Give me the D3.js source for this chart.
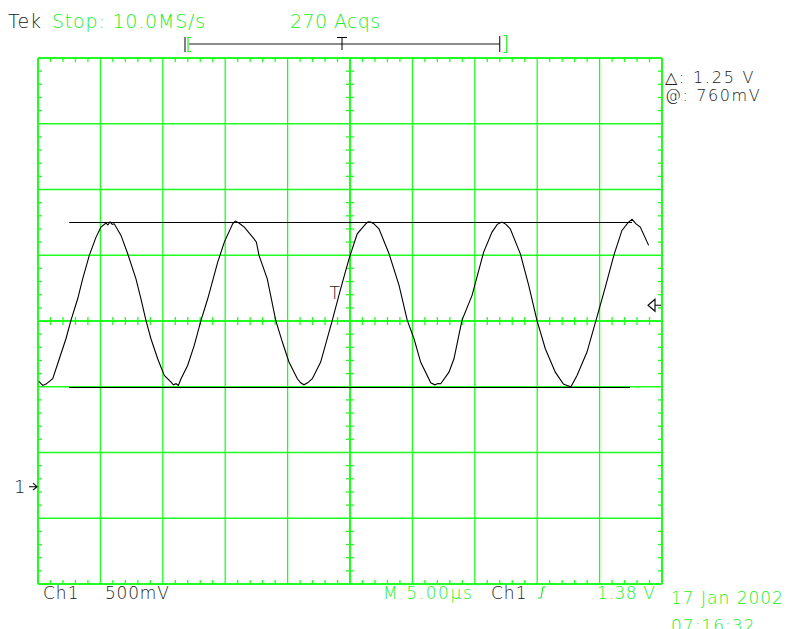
<!DOCTYPE html>
<html><head><meta charset="utf-8">
<script src="https://cdn.jsdelivr.net/npm/d3@7"></script>
<style>body{margin:0;background:#fff}svg{display:block}text{font-family:"DejaVu Sans Light","DejaVu Sans",sans-serif;font-weight:200}</style>
</head><body>
<script>
// Time (µs from left edge of screen) and Ch1 voltage (V, relative to ground marker)
const timeUs = [0.06,0.38,0.64,1.18,1.71,2.24,2.64,3.18,3.58,4.11,4.65,5.05,5.45,5.6,5.77,5.95,6.11,6.65,7.19,7.85,8.25,8.65,9.05,9.59,10.12,10.66,10.85,11.06,11.25,11.46,11.99,12.52,13.06,13.60,14.40,14.93,15.60,15.8,16.00,16.2,16.53,17.31,17.5,17.71,18.37,19.05,19.58,20.11,20.78,21.05,21.31,21.6,21.98,22.65,23.58,24.25,24.92,25.58,26.26,26.45,26.66,26.9,27.32,28.13,28.93,29.59,30.13,30.66,31.47,31.8,32.05,32.27,32.93,33.33,33.97,34.78,35.71,36.38,36.8,37.18,37.5,37.84,38.65,39.32,39.98,40.65,41.45,42.1,42.39,42.7,43.19,43.99,44.71,45.46,46.14,46.79,47.3,47.60,47.9,48.26,48.93];
const voltsCh1 = [0.801,0.770,0.780,0.821,0.973,1.125,1.265,1.429,1.581,1.759,1.898,1.974,2.005,1.990,2.013,1.995,1.999,1.911,1.771,1.581,1.429,1.265,1.125,0.973,0.846,0.795,0.775,0.783,0.770,0.821,0.922,1.075,1.265,1.429,1.708,1.860,1.999,2.020,2.012,1.998,1.974,1.885,1.860,1.759,1.581,1.265,1.100,0.948,0.821,0.790,0.775,0.790,0.821,0.948,1.265,1.505,1.733,1.923,1.999,2.015,2.012,2.000,1.961,1.771,1.531,1.265,1.125,0.948,0.790,0.775,0.785,0.783,0.871,0.973,1.265,1.455,1.784,1.936,1.995,2.012,1.995,1.961,1.771,1.531,1.265,1.049,0.871,0.780,0.770,0.760,0.846,1.024,1.265,1.518,1.759,1.949,2.010,2.033,2.000,1.974,1.835];
const cursorVolts = [2.01, 0.76];
const cursorSpanUs = [2.5, 47.6];
const triggerVolts = 1.38;
const groundVolts = 0;
const triggerTimeUs = 24.4;
const recordSpanUs = [12.1, 37.0];
const xMajor = [0,5,10,15,20,25,30,35,40,45,50];
const yMajor = [-0.74,-0.24,0.26,0.76,1.26,1.76,2.26,2.76,3.26];
const headerTexts = ["Tek","Stop: 10.0MS/s","270 Acqs"];
const readoutTexts = ["\u25B3: 1.25 V","@: 760mV"];
const footerTexts = ["Ch1","500mV","M 5.00\u00B5s","Ch1","1.38 V","17 Jan 2002","07:16:32"];

const W=790,H=629;
const GREEN="#1fff1f", TXTGREEN="#22ee22", INK="#222";
const svg=d3.select("body").append("svg").attr("width",W).attr("height",H);
const x=d3.scaleLinear().domain([0,50]).range([38,662]);
const y=d3.scaleLinear().domain([-0.74,3.26]).range([584,58]);
const xC=25, yC=1.26;

// grid lines
const g=svg.append("g");
xMajor.forEach(v=>{
  const edge=(v===0||v===50), c=(v===xC);
  g.append("line").attr("x1",x(v)).attr("x2",x(v)).attr("y1",y(3.26)).attr("y2",y(-0.74))
   .attr("stroke",GREEN).attr("stroke-width",edge||c?2:1.3);
});
yMajor.forEach(v=>{
  const edge=(v===-0.74||v===3.26), c=(Math.abs(v-yC)<1e-6);
  g.append("line").attr("x1",x(0)).attr("x2",x(50)).attr("y1",y(v)).attr("y2",y(v))
   .attr("stroke",GREEN).attr("stroke-width",edge||c?2:1.3);
});
// minor ticks
const tl=4;
d3.range(0,51,1).filter(v=>v%5!==0).forEach(v=>{
  const px=x(v);
  g.append("line").attr("x1",px).attr("x2",px).attr("y1",y(3.26)).attr("y2",y(3.26)+tl).attr("stroke",GREEN).attr("stroke-width",1.3);
  g.append("line").attr("x1",px).attr("x2",px).attr("y1",y(-0.74)).attr("y2",y(-0.74)-tl).attr("stroke",GREEN).attr("stroke-width",1.3);
  g.append("line").attr("x1",px).attr("x2",px).attr("y1",y(yC)-tl).attr("y2",y(yC)+tl).attr("stroke",GREEN).attr("stroke-width",1.3);
});
d3.range(0,41,1).filter(k=>k%5!==0).forEach(k=>{
  const py=y(-0.74+k*0.1);
  g.append("line").attr("x1",x(0)).attr("x2",x(0)+tl).attr("y1",py).attr("y2",py).attr("stroke",GREEN).attr("stroke-width",1.3);
  g.append("line").attr("x1",x(50)).attr("x2",x(50)-tl).attr("y1",py).attr("y2",py).attr("stroke",GREEN).attr("stroke-width",1.3);
  g.append("line").attr("x1",x(xC)-tl).attr("x2",x(xC)+tl).attr("y1",py).attr("y2",py).attr("stroke",GREEN).attr("stroke-width",1.3);
});

// cursors
cursorVolts.forEach((v,i)=>{
  svg.append("line").attr("x1",x(cursorSpanUs[0])).attr("x2",x(cursorSpanUs[1])-(i?2:0))
    .attr("y1",Math.round(y(v))+0.5).attr("y2",Math.round(y(v))+0.5).attr("stroke","#000").attr("stroke-width",1);
});

// waveform
const pts=timeUs.map((t,i)=>[x(t),y(voltsCh1[i])]);
svg.append("path").attr("d",d3.line()(pts)).attr("fill","none").attr("stroke","#000").attr("stroke-width",1.1);

// trigger 'T' on waveform
svg.append("text").attr("x",x(triggerTimeUs)-13).attr("y",y(triggerVolts)-6).attr("font-size",17).attr("fill",INK).text("T");

// header
svg.append("text").attr("x",8).attr("y",28).attr("font-size",19).attr("letter-spacing",1).attr("fill",INK).text(headerTexts[0]);
svg.append("text").attr("x",52).attr("y",28).attr("font-size",19).attr("letter-spacing",0.8).attr("fill",TXTGREEN).text(headerTexts[1]);
svg.append("text").attr("x",290).attr("y",28).attr("font-size",19).attr("letter-spacing",0.4).attr("fill",TXTGREEN).text(headerTexts[2]);

// record bar
const rb=svg.append("g");
rb.append("line").attr("x1",x(recordSpanUs[0])).attr("x2",x(recordSpanUs[1])).attr("y1",44).attr("y2",44).attr("stroke","#666").attr("stroke-width",1.6);
rb.append("line").attr("x1",x(recordSpanUs[0])-4).attr("x2",x(recordSpanUs[0])-4).attr("y1",37).attr("y2",52).attr("stroke","#000").attr("stroke-width",1);
rb.append("path").attr("d",`M${x(recordSpanUs[0])+2},37.5 H${x(recordSpanUs[0])-1} V51.5 H${x(recordSpanUs[0])+2}`).attr("fill","none").attr("stroke",TXTGREEN).attr("stroke-width",1.2);
rb.append("line").attr("x1",x(recordSpanUs[1])).attr("x2",x(recordSpanUs[1])).attr("y1",36).attr("y2",52).attr("stroke","#000").attr("stroke-width",1);
rb.append("path").attr("d",`M${x(recordSpanUs[1])+4},35.5 H${x(recordSpanUs[1])+7} V52.5 H${x(recordSpanUs[1])+4}`).attr("fill","none").attr("stroke",TXTGREEN).attr("stroke-width",1.2);
const tx=x(triggerTimeUs)-0.5;
rb.append("path").attr("d",`M${tx-5},37.5 H${tx+5} M${tx},37.5 V50`).attr("fill","none").attr("stroke","#000").attr("stroke-width",1);

// readouts
svg.append("text").attr("x",665).attr("y",83).attr("font-size",16).attr("letter-spacing",1.8).attr("fill",INK).text(readoutTexts[0]);
svg.append("text").attr("x",665).attr("y",101).attr("font-size",16).attr("letter-spacing",1.6).attr("fill",INK).text(readoutTexts[1]);

// ground marker
const gy=y(groundVolts);
svg.append("text").attr("x",14).attr("y",gy+6.5).attr("font-size",18).attr("fill",INK).text("1");
svg.append("path").attr("d",`M29,${gy} H37 M33,${gy-3.5} L37,${gy} L33,${gy+3.5}`).attr("fill","none").attr("stroke","#000").attr("stroke-width",1.1);

// trigger level marker
const ty=y(triggerVolts);
svg.append("path").attr("d",`M655,${ty-6} L648,${ty} L655,${ty+6} Z M655,${ty} H661`).attr("fill","none").attr("stroke","#000").attr("stroke-width",1.1);

// footer
svg.append("text").attr("x",43).attr("y",599).attr("font-size",17).attr("letter-spacing",1).attr("fill",INK).text(footerTexts[0]);
svg.append("text").attr("x",105).attr("y",599).attr("font-size",17).attr("letter-spacing",0.8).attr("fill",INK).text(footerTexts[1]);
svg.append("text").attr("x",383).attr("y",599).attr("font-size",17).attr("letter-spacing",1.6).attr("fill",TXTGREEN).text(footerTexts[2]);
svg.append("text").attr("x",491).attr("y",599).attr("font-size",17).attr("letter-spacing",1).attr("fill",INK).text(footerTexts[3]);
svg.append("path").attr("d","M538,598 H541 L543,587 H546").attr("fill","none").attr("stroke",TXTGREEN).attr("stroke-width",1.2);
svg.append("text").attr("x",597).attr("y",599).attr("font-size",17).attr("letter-spacing",0.6).attr("fill",TXTGREEN).text(footerTexts[4]);
svg.append("text").attr("x",671).attr("y",604).attr("font-size",17).attr("letter-spacing",1).attr("fill",TXTGREEN).text(footerTexts[5]);
svg.append("text").attr("x",671).attr("y",632).attr("font-size",17).attr("letter-spacing",1).attr("fill",TXTGREEN).text(footerTexts[6]);
</script>
</body></html>
